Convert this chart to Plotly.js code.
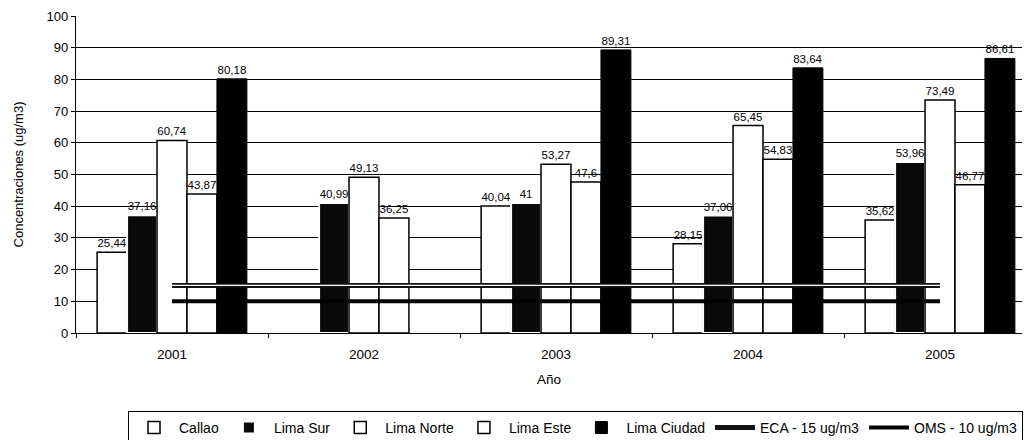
<!DOCTYPE html>
<html>
<head>
<meta charset="utf-8">
<script src="https://cdn.plot.ly/plotly-3.0.1.min.js"></script>
<style>html,body{margin:0;padding:0;background:#fff;}#chart{width:1029px;height:440px;}</style>
</head>
<body>
<div id="chart"></div>
<script>
const years = ['2001', '2002', '2003', '2004', '2005'];
const callao = [25.44, null, 40.04, 28.15, 35.62];
const limaSur = [37.16, 40.99, 41, 37.06, 53.96];
const limaNorte = [60.74, 49.13, 53.27, 65.45, 73.49];
const limaEste = [43.87, 36.25, 47.6, 54.83, 46.77];
const limaCiudad = [80.18, null, 89.31, 83.64, 86.61];
const eca = [15, 15, 15, 15, 15];
const oms = [10, 10, 10, 10, 10];

function lbl(arr) {
  return arr.map(v => v === null ? '' : String(v).replace('.', ','));
}

const font = 'Liberation Sans, Arial, sans-serif';
const labelFont = {family: font, size: 11.5, color: '#000'};

function barTrace(name, vals, fill, lineColor, lineWidth) {
  return {
    type: 'bar', name: name, x: years, y: vals,
    text: lbl(vals), textposition: 'outside', textfont: labelFont,
    constraintext: 'none', cliponaxis: false,
    marker: {color: fill, line: {color: lineColor, width: lineWidth}},
    hoverinfo: 'x+y'
  };
}

const traces = [
  barTrace('Callao', callao, '#ffffff', '#000000', 1.5),
  barTrace('Lima Sur', limaSur, '#0a0a0a', '#ffffff', 2),
  barTrace('Lima Norte', limaNorte, '#ffffff', '#000000', 1.5),
  barTrace('Lima Este', limaEste, '#ffffff', '#000000', 1.5),
  barTrace('Lima Ciudad', limaCiudad, '#000000', '#000000', 1),
  {type: 'scatter', mode: 'lines', name: 'ECA - 15 ug/m3', x: years, y: eca,
   line: {color: '#111', width: 5}},
  {type: 'scatter', mode: 'lines', name: 'ECA inner', x: years, y: eca,
   line: {color: '#ffffff', width: 1.2}, showlegend: false, hoverinfo: 'skip'},
  {type: 'scatter', mode: 'lines', name: 'OMS - 10 ug/m3', x: years, y: oms,
   line: {color: '#000', width: 4}}
];

const layout = {
  width: 1029, height: 440,
  margin: {l: 76, r: 7, t: 16, b: 107},
  paper_bgcolor: '#fff', plot_bgcolor: '#fff',
  font: {family: font, size: 12, color: '#000'},
  barmode: 'group', bargap: 0.22, bargroupgap: 0,
  showlegend: true,
  xaxis: {
    type: 'category', range: [-0.5, 4.427],
    showline: true, linecolor: '#000', linewidth: 1,
    ticks: 'outside', tickson: 'boundaries', ticklen: 4, tickcolor: '#000',
    ticklabelstandoff: 9,
    showgrid: false, zeroline: false,
    tickfont: {family: font, size: 13.5, color: '#000'},
    title: {text: 'Año', font: {family: font, size: 13.5, color: '#000'}, standoff: 13}
  },
  yaxis: {
    range: [0, 100], dtick: 10, tick0: 0,
    showline: true, linecolor: '#000', linewidth: 1.2,
    ticks: 'outside', ticklen: 4, tickcolor: '#000',
    showgrid: true, gridcolor: '#000', gridwidth: 1,
    zeroline: false,
    tickfont: {family: font, size: 13, color: '#000'},
    title: {text: 'Concentraciones (ug/m3)', font: {family: font, size: 13, color: '#000'}, standoff: 20}
  },
  legend: {
    orientation: 'h', xref: 'container', yref: 'container',
    x: 0.1244, xanchor: 'left', y: 0.066, yanchor: 'top',
    bgcolor: '#fff', bordercolor: '#000', borderwidth: 1,
    font: {family: font, size: 14, color: '#000'},
    tracegroupgap: 0, itemwidth: 40, traceorder: 'normal'
  }
};

Plotly.newPlot('chart', traces, layout, {displayModeBar: false, staticPlot: true});
</script>
</body>
</html>
